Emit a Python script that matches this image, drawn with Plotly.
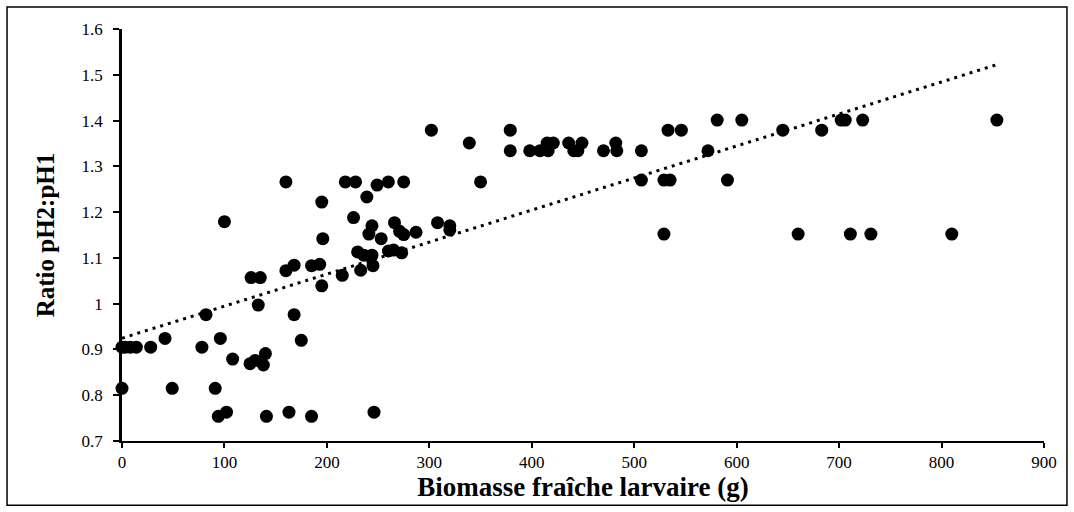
import numpy as np
import plotly.graph_objects as go

# Biomasse fraîche larvaire (g)
biomasse = [0, 0, 3, 8, 14, 28, 42, 49, 78, 82, 91, 94, 96, 100, 102, 108, 125, 126, 130, 133,
            135, 138, 140, 141, 160, 160, 163, 168, 168, 175, 185, 185, 193, 195, 196, 195,
            215, 218, 226, 228, 230, 233, 236, 239, 241, 244, 244, 245, 246, 249, 253, 260,
            260, 265, 266, 271, 273, 275, 275, 287, 302, 308, 320, 320, 339, 350, 379, 379,
            398, 408, 415, 421, 416, 436, 441, 445, 449, 470, 482, 483, 507, 507, 529, 533,
            535, 529, 546, 572, 581, 591, 605, 645, 660, 683, 702, 706, 711, 723, 731, 810, 854]
# Ratio pH2:pH1
ratio = [0.815, 0.905, 0.905, 0.905, 0.905, 0.905, 0.924, 0.815, 0.905, 0.976, 0.815, 0.754,
         0.924, 1.179, 0.763, 0.879, 0.869, 1.057, 0.876, 0.997, 1.057, 0.866, 0.891, 0.754,
         1.266, 1.072, 0.763, 1.084, 0.976, 0.920, 0.754, 1.083, 1.086, 1.222, 1.142, 1.039,
         1.062, 1.266, 1.188, 1.266, 1.113, 1.073, 1.106, 1.233, 1.152, 1.170, 1.106, 1.083,
         0.763, 1.259, 1.142, 1.266, 1.115, 1.117, 1.177, 1.158, 1.111, 1.266, 1.151, 1.156,
         1.379, 1.177, 1.170, 1.161, 1.351, 1.266, 1.379, 1.334, 1.334, 1.334, 1.351, 1.351,
         1.334, 1.351, 1.334, 1.334, 1.351, 1.334, 1.351, 1.334, 1.334, 1.270, 1.270, 1.379,
         1.270, 1.152, 1.379, 1.334, 1.401, 1.270, 1.401, 1.379, 1.152, 1.379, 1.401, 1.401,
         1.152, 1.401, 1.152, 1.152, 1.401]

x_ticks = [0, 100, 200, 300, 400, 500, 600, 700, 800, 900]
y_ticks = [0.7, 0.8, 0.9, 1.0, 1.1, 1.2, 1.3, 1.4, 1.5, 1.6]
y_ticklabels = ["0.7", "0.8", "0.9", "1", "1.1", "1.2", "1.3", "1.4", "1.5", "1.6"]

xa = np.array(biomasse, dtype=float)
ya = np.array(ratio, dtype=float)
slope, intercept = np.polyfit(xa, ya, 1)
x_fit = np.array([xa.min(), xa.max()])
y_fit = intercept + slope * x_fit

fig = go.Figure()
fig.add_trace(go.Scatter(
    x=x_fit, y=y_fit, mode="lines",
    line=dict(color="black", width=3, dash="3px,5px"),
    hoverinfo="skip", showlegend=False, cliponaxis=False,
))
fig.add_trace(go.Scatter(
    x=biomasse, y=ratio, mode="markers",
    marker=dict(color="black", size=13, line=dict(width=0)),
    showlegend=False, cliponaxis=False,
))

serif = "Liberation Serif, Times New Roman, serif"
fig.update_layout(
    width=1074, height=512,
    margin=dict(l=122, r=30, t=29, b=71),
    paper_bgcolor="white", plot_bgcolor="white",
    font=dict(family=serif, color="black"),
    xaxis=dict(
        range=[0, 900], tickvals=x_ticks, ticks="outside", ticklen=5, tickwidth=1.5,
        tickcolor="black", showline=True, linecolor="black", linewidth=1.5,
        showgrid=False, zeroline=False, tickfont=dict(size=17, family=serif),
        automargin=False,
        title=dict(text="<b>Biomasse fraîche larvaire (g)</b>",
                   font=dict(size=27, family=serif), standoff=0),
    ),
    yaxis=dict(
        range=[0.7, 1.6], tickvals=y_ticks, ticktext=y_ticklabels, ticks="outside",
        ticklen=6, tickwidth=1.5, tickcolor="black", showline=True, linecolor="black",
        linewidth=2.5, showgrid=False, zeroline=False, tickfont=dict(size=17, family=serif),
        ticklabelstandoff=7, automargin=False,
        title=dict(text="<b>Ratio pH2:pH1</b>", font=dict(size=25, family=serif), standoff=20),
    ),
    shapes=[dict(type="rect", xref="paper", yref="paper",
                 x0=-0.1247, x1=1.0249, y0=-0.156, y1=1.0534,
                 line=dict(color="black", width=1.5), fillcolor="rgba(0,0,0,0)", layer="below")],
)

fig.write_html("out.html", config={"displayModeBar": False},
               post_script="document.body.style.margin='0px';")
